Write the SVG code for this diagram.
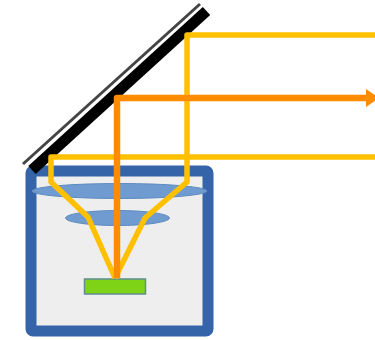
<svg xmlns="http://www.w3.org/2000/svg" width="375" height="340" viewBox="0 0 375 340">
<defs>
<filter id="soft" x="-5%" y="-5%" width="110%" height="110%"><feGaussianBlur stdDeviation="0.7"/></filter>
<marker id="head" markerUnits="userSpaceOnUse" markerWidth="14" markerHeight="20" refX="1" refY="10" orient="auto"><path d="M0 1L13 10L0 19Z" fill="#ff8c00"/></marker>
</defs>
<style>
.lens{fill:#6f9bd1;stroke:#5f8bc0;stroke-width:1}
.ray{fill:none;stroke-linejoin:round}
.y{stroke:#ffc000;stroke-width:5.500}
.o{stroke:#ff8c00;stroke-width:6.500}
</style>
<rect width="375" height="340" fill="#fff"/>
<g filter="url(#soft)">
<g id="chamber"><rect x="31" y="171" width="177" height="160" rx="2" fill="#eeeeee" stroke="#3465a8" stroke-width="11"/></g>
<g id="lens-large"><ellipse class="lens" cx="119.500" cy="191" rx="87.500" ry="7.500"/></g>
<g id="lens-small"><ellipse class="lens" cx="117.500" cy="218" rx="52" ry="7.500"/></g>
<g id="sample"><rect x="84.500" y="279" width="61" height="15" fill="#7fd317" stroke="#5f8f90" stroke-width="1.500"/></g>
<g id="mirror">
<line x1="23" y1="164" x2="200" y2="4" stroke="#444" stroke-width="3"/>
<line x1="32" y1="170" x2="206.500" y2="11" stroke="#000" stroke-width="11"/>
</g>
<g id="connectors">
<path class="ray y" d="M375 35H187V182L145 218L115 278"/>
<path class="ray y" d="M375 157H51V182L88 217L115 278"/>
<path class="ray o" d="M117 278V98H367" marker-end="url(#head)"/>
</g>
</g>
</svg>
